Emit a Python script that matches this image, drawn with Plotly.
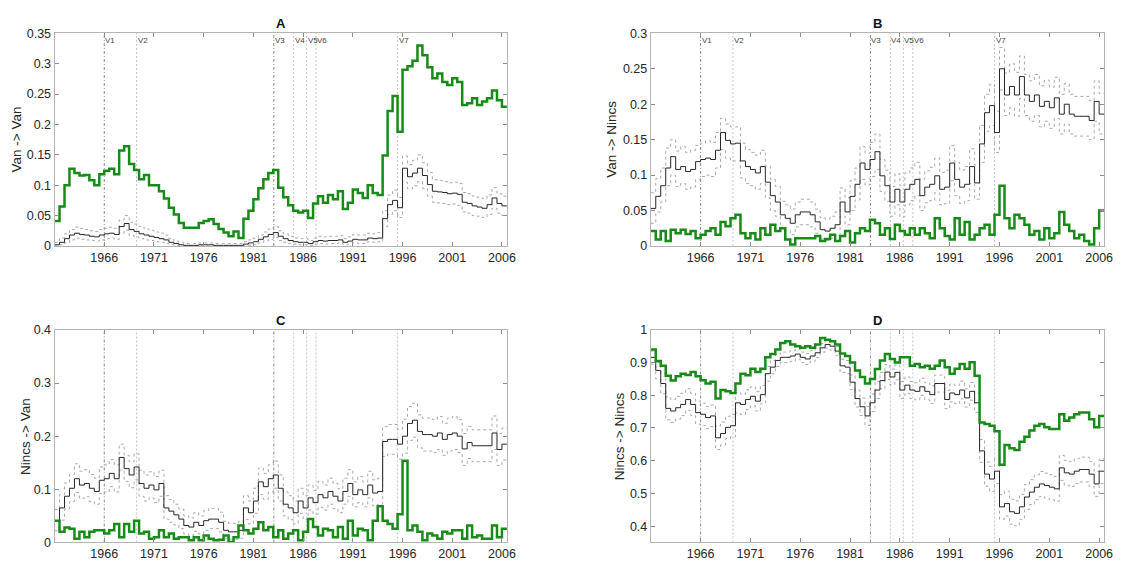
import numpy as np
import plotly.graph_objects as go

# Half-yearly time grid (start of each period), 1961.0 ... 2006.0
YEARS = list(np.arange(1961.0, 2006.01, 0.5))
X_END = 2006.5

# Event markers
EVENT_LABELS = ["V1", "V2", "V3", "V4", "V5", "V6", "V7"]
EVENT_YEARS = [1966.0, 1969.25, 1983.05, 1985.05, 1986.35, 1987.3, 1995.5]
EVENT_DARK = [True, False, True, False, False, False, False]

X_TICKS = [1966, 1971, 1976, 1981, 1986, 1991, 1996, 2001, 2006]

# ---- Panel A: Van -> Van ----
OBS_A = [
    0.041, 0.065, 0.100, 0.127, 0.120, 0.116, 0.117, 0.108, 0.100, 0.118,
    0.124, 0.127, 0.118, 0.157, 0.164, 0.135, 0.125, 0.110, 0.117, 0.100,
    0.100, 0.090, 0.078, 0.063, 0.052, 0.038, 0.030, 0.030, 0.030, 0.038,
    0.041, 0.044, 0.036, 0.028, 0.022, 0.016, 0.024, 0.013, 0.045, 0.058,
    0.077, 0.095, 0.110, 0.120, 0.125, 0.096, 0.080, 0.067, 0.058, 0.055,
    0.058, 0.046, 0.070, 0.082, 0.071, 0.084, 0.077, 0.090, 0.061, 0.071,
    0.093, 0.087, 0.079, 0.100, 0.087, 0.084, 0.149, 0.222, 0.247, 0.188,
    0.290, 0.296, 0.305, 0.330, 0.314, 0.294, 0.276, 0.284, 0.270, 0.265,
    0.276, 0.270, 0.232, 0.235, 0.243, 0.232, 0.238, 0.243, 0.256, 0.240,
    0.229,
]
SIM_A = [
    0.002, 0.006, 0.012, 0.018, 0.021, 0.019, 0.018, 0.016, 0.015, 0.018,
    0.020, 0.021, 0.019, 0.032, 0.037, 0.027, 0.024, 0.020, 0.018, 0.016,
    0.014, 0.012, 0.010, 0.006, 0.004, 0.002, 0.001, 0.001, 0.001, 0.002,
    0.002, 0.002, 0.001, 0.001, 0.001, 0.001, 0.001, 0.001, 0.003, 0.005,
    0.007, 0.011, 0.015, 0.019, 0.022, 0.016, 0.012, 0.009, 0.007, 0.006,
    0.006, 0.004, 0.007, 0.009, 0.008, 0.009, 0.009, 0.010, 0.006, 0.008,
    0.011, 0.010, 0.010, 0.013, 0.012, 0.013, 0.045, 0.068, 0.075, 0.063,
    0.128, 0.114, 0.120, 0.128, 0.116, 0.101, 0.090, 0.089, 0.088, 0.086,
    0.087, 0.085, 0.072, 0.070, 0.066, 0.064, 0.062, 0.068, 0.079, 0.070,
    0.066,
]
SIM_A_HI = [
    0.006, 0.013, 0.020, 0.027, 0.031, 0.029, 0.027, 0.025, 0.024, 0.027,
    0.029, 0.031, 0.029, 0.043, 0.050, 0.039, 0.036, 0.032, 0.028, 0.026,
    0.023, 0.021, 0.018, 0.012, 0.008, 0.006, 0.004, 0.004, 0.004, 0.005,
    0.005, 0.005, 0.004, 0.004, 0.004, 0.004, 0.004, 0.004, 0.007, 0.010,
    0.013, 0.018, 0.023, 0.028, 0.032, 0.025, 0.020, 0.016, 0.013, 0.012,
    0.012, 0.009, 0.013, 0.016, 0.015, 0.016, 0.016, 0.017, 0.012, 0.015,
    0.019, 0.018, 0.018, 0.021, 0.020, 0.022, 0.058, 0.084, 0.092, 0.080,
    0.148, 0.134, 0.141, 0.150, 0.137, 0.121, 0.109, 0.108, 0.106, 0.104,
    0.105, 0.103, 0.088, 0.086, 0.082, 0.080, 0.078, 0.084, 0.096, 0.086,
    0.082,
]
SIM_A_LO = [
    0.000, 0.002, 0.005, 0.010, 0.013, 0.011, 0.010, 0.009, 0.008, 0.010,
    0.012, 0.013, 0.011, 0.021, 0.026, 0.017, 0.015, 0.012, 0.010, 0.009,
    0.007, 0.006, 0.004, 0.002, 0.001, 0.000, 0.000, 0.000, 0.000, 0.000,
    0.000, 0.000, 0.000, 0.000, 0.000, 0.000, 0.000, 0.000, 0.001, 0.001,
    0.002, 0.005, 0.008, 0.011, 0.014, 0.009, 0.006, 0.004, 0.003, 0.002,
    0.002, 0.001, 0.003, 0.004, 0.003, 0.004, 0.004, 0.005, 0.002, 0.003,
    0.005, 0.004, 0.004, 0.007, 0.006, 0.007, 0.032, 0.052, 0.058, 0.047,
    0.105, 0.094, 0.099, 0.106, 0.095, 0.082, 0.072, 0.071, 0.070, 0.068,
    0.069, 0.067, 0.056, 0.054, 0.050, 0.049, 0.047, 0.052, 0.062, 0.054,
    0.050,
]

# ---- Panel B: Van -> Nincs ----
OBS_B = [
    0.021, 0.009, 0.021, 0.007, 0.023, 0.018, 0.023, 0.017, 0.021, 0.011,
    0.016, 0.021, 0.025, 0.016, 0.034, 0.028, 0.039, 0.044, 0.018, 0.011,
    0.018, 0.009, 0.025, 0.016, 0.030, 0.021, 0.025, 0.009, 0.002, 0.011,
    0.011, 0.011, 0.011, 0.014, 0.007, 0.010, 0.016, 0.007, 0.014, 0.021,
    0.005, 0.018, 0.025, 0.021, 0.037, 0.032, 0.016, 0.025, 0.010, 0.030,
    0.021, 0.016, 0.025, 0.016, 0.025, 0.018, 0.011, 0.039, 0.025, 0.014,
    0.009, 0.039, 0.016, 0.034, 0.009, 0.016, 0.025, 0.030, 0.016, 0.044,
    0.085, 0.039, 0.025, 0.044, 0.039, 0.030, 0.016, 0.021, 0.009, 0.025,
    0.011, 0.018, 0.048, 0.030, 0.021, 0.011, 0.016, 0.007, 0.002, 0.025,
    0.050,
]
SIM_B = [
    0.053, 0.070, 0.085, 0.110, 0.126, 0.108, 0.112, 0.105, 0.108, 0.119,
    0.122, 0.124, 0.122, 0.135, 0.160, 0.149, 0.144, 0.145, 0.120, 0.112,
    0.108, 0.103, 0.112, 0.090, 0.071, 0.062, 0.044, 0.039, 0.032, 0.044,
    0.048, 0.048, 0.044, 0.034, 0.023, 0.021, 0.025, 0.030, 0.062, 0.048,
    0.070, 0.087, 0.117, 0.108, 0.122, 0.133, 0.099, 0.085, 0.062, 0.080,
    0.062, 0.080, 0.087, 0.094, 0.071, 0.083, 0.087, 0.099, 0.080, 0.083,
    0.117, 0.094, 0.083, 0.087, 0.112, 0.089, 0.144, 0.188, 0.198, 0.160,
    0.250, 0.213, 0.225, 0.213, 0.239, 0.213, 0.204, 0.213, 0.197, 0.204,
    0.195, 0.209, 0.186, 0.200, 0.186, 0.183, 0.183, 0.183, 0.177, 0.204,
    0.186,
]
SIM_B_HI = [
    0.075, 0.095, 0.110, 0.138, 0.150, 0.134, 0.140, 0.132, 0.135, 0.142,
    0.145, 0.148, 0.146, 0.160, 0.180, 0.172, 0.168, 0.168, 0.145, 0.136,
    0.132, 0.128, 0.135, 0.113, 0.094, 0.084, 0.063, 0.058, 0.052, 0.062,
    0.066, 0.066, 0.062, 0.052, 0.040, 0.038, 0.042, 0.048, 0.082, 0.068,
    0.092, 0.110, 0.140, 0.131, 0.146, 0.158, 0.122, 0.107, 0.084, 0.102,
    0.085, 0.103, 0.110, 0.118, 0.094, 0.106, 0.111, 0.124, 0.104, 0.107,
    0.142, 0.118, 0.107, 0.112, 0.137, 0.114, 0.170, 0.214, 0.228, 0.190,
    0.280, 0.244, 0.257, 0.245, 0.268, 0.242, 0.233, 0.242, 0.226, 0.234,
    0.224, 0.238, 0.214, 0.229, 0.214, 0.211, 0.211, 0.211, 0.205, 0.233,
    0.215,
]
SIM_B_LO = [
    0.032, 0.048, 0.062, 0.085, 0.100, 0.084, 0.088, 0.080, 0.083, 0.094,
    0.098, 0.100, 0.098, 0.110, 0.136, 0.124, 0.120, 0.120, 0.096, 0.088,
    0.085, 0.080, 0.088, 0.068, 0.050, 0.042, 0.026, 0.022, 0.016, 0.027,
    0.030, 0.030, 0.027, 0.018, 0.010, 0.008, 0.011, 0.015, 0.042, 0.030,
    0.050, 0.065, 0.094, 0.086, 0.098, 0.108, 0.077, 0.063, 0.042, 0.058,
    0.041, 0.058, 0.064, 0.071, 0.050, 0.061, 0.064, 0.075, 0.058, 0.060,
    0.092, 0.071, 0.060, 0.064, 0.088, 0.066, 0.118, 0.162, 0.170, 0.132,
    0.220, 0.184, 0.195, 0.183, 0.208, 0.184, 0.176, 0.184, 0.168, 0.176,
    0.166, 0.180, 0.158, 0.172, 0.158, 0.155, 0.155, 0.155, 0.150, 0.176,
    0.158,
]

# ---- Panel C: Nincs -> Van ----
OBS_C = [
    0.041, 0.020, 0.028, 0.026, 0.007, 0.020, 0.010, 0.020, 0.023, 0.023,
    0.017, 0.023, 0.035, 0.010, 0.035, 0.020, 0.041, 0.017, 0.020, 0.007,
    0.010, 0.023, 0.010, 0.017, 0.007, 0.010, 0.010, 0.004, 0.010, 0.004,
    0.013, 0.007, 0.004, 0.005, 0.013, 0.001, 0.010, 0.032, 0.023, 0.017,
    0.026, 0.038, 0.023, 0.029, 0.010, 0.023, 0.007, 0.017, 0.023, 0.004,
    0.020, 0.044, 0.029, 0.013, 0.026, 0.023, 0.010, 0.029, 0.007, 0.041,
    0.013, 0.026, 0.023, 0.004, 0.041, 0.068, 0.041, 0.035, 0.026, 0.053,
    0.154, 0.023, 0.032, 0.020, 0.004, 0.017, 0.013, 0.007, 0.020, 0.017,
    0.023, 0.023, 0.007, 0.032, 0.010, 0.013, 0.007, 0.007, 0.032, 0.010,
    0.026,
]
SIM_C = [
    0.041, 0.065, 0.087, 0.102, 0.120, 0.108, 0.111, 0.102, 0.096, 0.117,
    0.120, 0.130, 0.120, 0.160, 0.139, 0.127, 0.142, 0.111, 0.102, 0.108,
    0.099, 0.111, 0.065, 0.059, 0.052, 0.044, 0.032, 0.029, 0.038, 0.032,
    0.041, 0.044, 0.044, 0.038, 0.023, 0.020, 0.020, 0.023, 0.065, 0.056,
    0.078, 0.114, 0.105, 0.120, 0.127, 0.102, 0.072, 0.065, 0.056, 0.078,
    0.065, 0.084, 0.075, 0.090, 0.084, 0.096, 0.087, 0.078, 0.096, 0.111,
    0.090, 0.099, 0.090, 0.108, 0.093, 0.096, 0.190, 0.194, 0.194, 0.185,
    0.200, 0.224, 0.230, 0.209, 0.203, 0.203, 0.200, 0.206, 0.194, 0.203,
    0.206, 0.200, 0.176, 0.188, 0.182, 0.182, 0.182, 0.182, 0.206, 0.175,
    0.185,
]
SIM_C_HI = [
    0.062, 0.090, 0.112, 0.128, 0.148, 0.134, 0.137, 0.128, 0.121, 0.142,
    0.146, 0.156, 0.146, 0.185, 0.164, 0.152, 0.167, 0.136, 0.127, 0.133,
    0.124, 0.136, 0.088, 0.081, 0.072, 0.063, 0.050, 0.046, 0.056, 0.050,
    0.060, 0.064, 0.064, 0.057, 0.040, 0.036, 0.036, 0.040, 0.088, 0.078,
    0.102, 0.140, 0.130, 0.146, 0.153, 0.127, 0.095, 0.088, 0.078, 0.102,
    0.088, 0.108, 0.098, 0.115, 0.108, 0.121, 0.111, 0.101, 0.121, 0.137,
    0.114, 0.124, 0.114, 0.134, 0.118, 0.121, 0.218, 0.222, 0.222, 0.213,
    0.232, 0.256, 0.262, 0.240, 0.234, 0.234, 0.231, 0.237, 0.224, 0.234,
    0.237, 0.231, 0.205, 0.218, 0.212, 0.212, 0.212, 0.212, 0.238, 0.205,
    0.215,
]
SIM_C_LO = [
    0.022, 0.042, 0.063, 0.077, 0.094, 0.083, 0.086, 0.077, 0.072, 0.092,
    0.095, 0.105, 0.095, 0.136, 0.115, 0.103, 0.118, 0.087, 0.078, 0.084,
    0.075, 0.087, 0.044, 0.038, 0.033, 0.026, 0.016, 0.013, 0.021, 0.016,
    0.023, 0.026, 0.026, 0.020, 0.008, 0.006, 0.006, 0.008, 0.043, 0.035,
    0.055, 0.090, 0.081, 0.095, 0.102, 0.078, 0.050, 0.043, 0.035, 0.055,
    0.043, 0.061, 0.053, 0.066, 0.061, 0.072, 0.064, 0.056, 0.072, 0.087,
    0.067, 0.075, 0.067, 0.084, 0.069, 0.072, 0.162, 0.166, 0.166, 0.157,
    0.168, 0.192, 0.198, 0.178, 0.172, 0.172, 0.169, 0.175, 0.164, 0.172,
    0.175, 0.169, 0.145, 0.158, 0.152, 0.152, 0.152, 0.152, 0.175, 0.145,
    0.155,
]

# ---- Panel D: Nincs -> Nincs ----
OBS_D = [
    0.940, 0.905, 0.890, 0.860, 0.845, 0.858, 0.866, 0.862, 0.871, 0.858,
    0.846, 0.836, 0.841, 0.790, 0.816, 0.812, 0.807, 0.836, 0.866, 0.861,
    0.881, 0.871, 0.881, 0.916, 0.926, 0.940, 0.960, 0.965, 0.955, 0.950,
    0.945, 0.950, 0.945, 0.955, 0.975, 0.970, 0.965, 0.955, 0.928, 0.920,
    0.900, 0.876, 0.856, 0.836, 0.850, 0.880, 0.906, 0.926, 0.911, 0.900,
    0.916, 0.916, 0.890, 0.896, 0.886, 0.890, 0.881, 0.890, 0.906, 0.886,
    0.866, 0.881, 0.896, 0.881, 0.901, 0.860, 0.717, 0.712, 0.707, 0.690,
    0.588, 0.648, 0.638, 0.633, 0.658, 0.673, 0.692, 0.707, 0.712, 0.702,
    0.697, 0.697, 0.742, 0.722, 0.732, 0.742, 0.747, 0.747, 0.727, 0.702,
    0.737,
]
SIM_D = [
    0.916, 0.876, 0.836, 0.760, 0.752, 0.762, 0.772, 0.787, 0.772, 0.747,
    0.742, 0.732, 0.737, 0.670, 0.683, 0.702, 0.707, 0.777, 0.772, 0.787,
    0.797, 0.782, 0.802, 0.866, 0.886, 0.906, 0.916, 0.916, 0.920, 0.926,
    0.916, 0.911, 0.920, 0.930, 0.945, 0.955, 0.950, 0.935, 0.890, 0.886,
    0.840, 0.790, 0.765, 0.737, 0.777, 0.816, 0.845, 0.871, 0.856, 0.870,
    0.816, 0.831, 0.816, 0.812, 0.826, 0.812, 0.802, 0.836, 0.836, 0.787,
    0.807, 0.802, 0.816, 0.792, 0.812, 0.777, 0.630, 0.559, 0.544, 0.568,
    0.459, 0.469, 0.444, 0.439, 0.459, 0.489, 0.504, 0.519, 0.529, 0.524,
    0.519, 0.514, 0.578, 0.563, 0.559, 0.568, 0.573, 0.573, 0.559, 0.529,
    0.568,
]
SIM_D_HI = [
    0.935, 0.900, 0.866, 0.795, 0.787, 0.797, 0.806, 0.820, 0.806, 0.782,
    0.776, 0.766, 0.770, 0.706, 0.718, 0.736, 0.741, 0.808, 0.803, 0.817,
    0.826, 0.812, 0.830, 0.888, 0.906, 0.924, 0.932, 0.932, 0.936, 0.941,
    0.932, 0.928, 0.936, 0.945, 0.958, 0.966, 0.962, 0.949, 0.910, 0.906,
    0.862, 0.816, 0.792, 0.766, 0.804, 0.842, 0.870, 0.894, 0.880, 0.893,
    0.842, 0.856, 0.842, 0.838, 0.852, 0.838, 0.829, 0.862, 0.862, 0.815,
    0.834, 0.830, 0.843, 0.820, 0.839, 0.806, 0.665, 0.596, 0.582, 0.606,
    0.497, 0.507, 0.482, 0.477, 0.497, 0.527, 0.542, 0.557, 0.567, 0.562,
    0.557, 0.552, 0.616, 0.601, 0.597, 0.606, 0.611, 0.611, 0.597, 0.567,
    0.606,
]
SIM_D_LO = [
    0.895, 0.850, 0.805, 0.725, 0.717, 0.727, 0.738, 0.754, 0.738, 0.712,
    0.708, 0.698, 0.704, 0.634, 0.648, 0.668, 0.673, 0.746, 0.741, 0.757,
    0.768, 0.752, 0.774, 0.843, 0.866, 0.888, 0.900, 0.900, 0.904, 0.911,
    0.900, 0.894, 0.904, 0.915, 0.932, 0.944, 0.938, 0.921, 0.870, 0.866,
    0.818, 0.764, 0.738, 0.708, 0.750, 0.790, 0.820, 0.848, 0.832, 0.847,
    0.790, 0.806, 0.790, 0.786, 0.800, 0.786, 0.775, 0.810, 0.810, 0.759,
    0.780, 0.774, 0.789, 0.764, 0.785, 0.748, 0.595, 0.522, 0.506, 0.530,
    0.421, 0.431, 0.406, 0.401, 0.421, 0.451, 0.466, 0.481, 0.491, 0.486,
    0.481, 0.476, 0.540, 0.525, 0.521, 0.530, 0.535, 0.535, 0.521, 0.491,
    0.530,
]

PANELS = [
    dict(title="A", ylabel="Van -> Van", obs=OBS_A, sim=SIM_A, hi=SIM_A_HI, lo=SIM_A_LO,
         yrange=[0, 0.35], yticks=[0, 0.05, 0.1, 0.15, 0.2, 0.25, 0.3, 0.35], labels=True),
    dict(title="B", ylabel="Van -> Nincs", obs=OBS_B, sim=SIM_B, hi=SIM_B_HI, lo=SIM_B_LO,
         yrange=[0, 0.3], yticks=[0, 0.05, 0.1, 0.15, 0.2, 0.25, 0.3], labels=True),
    dict(title="C", ylabel="Nincs -> Van", obs=OBS_C, sim=SIM_C, hi=SIM_C_HI, lo=SIM_C_LO,
         yrange=[0, 0.4], yticks=[0, 0.1, 0.2, 0.3, 0.4], labels=False),
    dict(title="D", ylabel="Nincs -> Nincs", obs=OBS_D, sim=SIM_D, hi=SIM_D_HI, lo=SIM_D_LO,
         yrange=[0.35, 1.0], yticks=[0.4, 0.5, 0.6, 0.7, 0.8, 0.9, 1.0], labels=False),
]

W, H = 1129, 569
# Axes boxes in pixels: (left, right, top, bottom)
BOXES = [(55, 511, 27, 245), (656, 1113, 27, 245), (55, 511, 331, 549), (656, 1113, 331, 549)]
YLABEL_X = [17, 617, 25, 624]

FONT = "Liberation Sans, Arial, Helvetica, sans-serif"
TEXT_COLOR = "#262626"
AXIS_COLOR = "#b4b4b4"
GREEN = "#178a17"

fig = go.Figure()
x_steps = YEARS + [X_END]

def ext(vals):
    return list(vals) + [vals[-1]]

shapes = []
annotations = []

for k, (p, box) in enumerate(zip(PANELS, BOXES)):
    sfx = "" if k == 0 else str(k + 1)
    xa, ya = "x" + sfx, "y" + sfx
    l, r, t, b = box
    common = dict(showline=True, linecolor=AXIS_COLOR, linewidth=1, mirror="ticks",
                  ticks="inside", ticklen=4, tickcolor="#8c8c8c", showgrid=False,
                  zeroline=False, tickfont=dict(family=FONT, size=12.5, color=TEXT_COLOR))
    fig.layout["xaxis" + sfx] = dict(common, domain=[l / W, r / W], anchor=ya,
                                     range=[1961, X_END], tickvals=X_TICKS,
                                     ticktext=[str(v) for v in X_TICKS])
    fig.layout["yaxis" + sfx] = dict(common, domain=[1 - b / H, 1 - t / H], anchor=xa,
                                     range=p["yrange"], tickvals=p["yticks"],
                                     ticktext=[f"{v:g}" for v in p["yticks"]])

    for band in (p["hi"], p["lo"]):
        fig.add_trace(go.Scatter(x=x_steps, y=ext(band), xaxis=xa, yaxis=ya, mode="lines",
                                 line=dict(color="#a9a9a9", width=1, dash="dot", shape="hv"),
                                 showlegend=False, hoverinfo="skip"))
    fig.add_trace(go.Scatter(x=x_steps, y=ext(p["sim"]), xaxis=xa, yaxis=ya, mode="lines",
                             line=dict(color="#262626", width=1, shape="hv"),
                             showlegend=False))
    fig.add_trace(go.Scatter(x=x_steps, y=ext(p["obs"]), xaxis=xa, yaxis=ya, mode="lines",
                             line=dict(color=GREEN, width=2.5, shape="hv"),
                             showlegend=False))

    for lab, yr, dark in zip(EVENT_LABELS, EVENT_YEARS, EVENT_DARK):
        shapes.append(dict(type="line", xref=xa, yref=ya + " domain", x0=yr, x1=yr,
                           y0=0, y1=1, layer="below",
                           line=dict(color="#8a8a8a" if dark else "#c6c6c6", width=1,
                                     dash="3px,2px,1px,2px" if dark else "2px,2px")))
        if p["labels"]:
            annotations.append(dict(text=lab, xref=xa, yref=ya + " domain", x=yr, y=0.995,
                                    xanchor="left", yanchor="top", xshift=-1, showarrow=False,
                                    font=dict(family=FONT, size=8, color="#444444")))

    annotations.append(dict(text="<b>" + p["title"] + "</b>", xref="paper", yref="paper",
                            x=(l + r) / 2 / W, y=1 - (t - 10) / H, xanchor="center",
                            yanchor="middle", showarrow=False,
                            font=dict(family=FONT, size=13, color="#111111")))
    annotations.append(dict(text=p["ylabel"], xref="paper", yref="paper",
                            x=YLABEL_X[k] / W, y=1 - (t + b) / 2 / H, textangle=-90,
                            xanchor="center", yanchor="middle", showarrow=False,
                            font=dict(family=FONT, size=13.5, color=TEXT_COLOR)))

fig.update_layout(width=W, height=H, margin=dict(l=0, r=0, t=0, b=0),
                  paper_bgcolor="white", plot_bgcolor="white",
                  shapes=shapes, annotations=annotations, showlegend=False)

fig.write_html("out.html")
